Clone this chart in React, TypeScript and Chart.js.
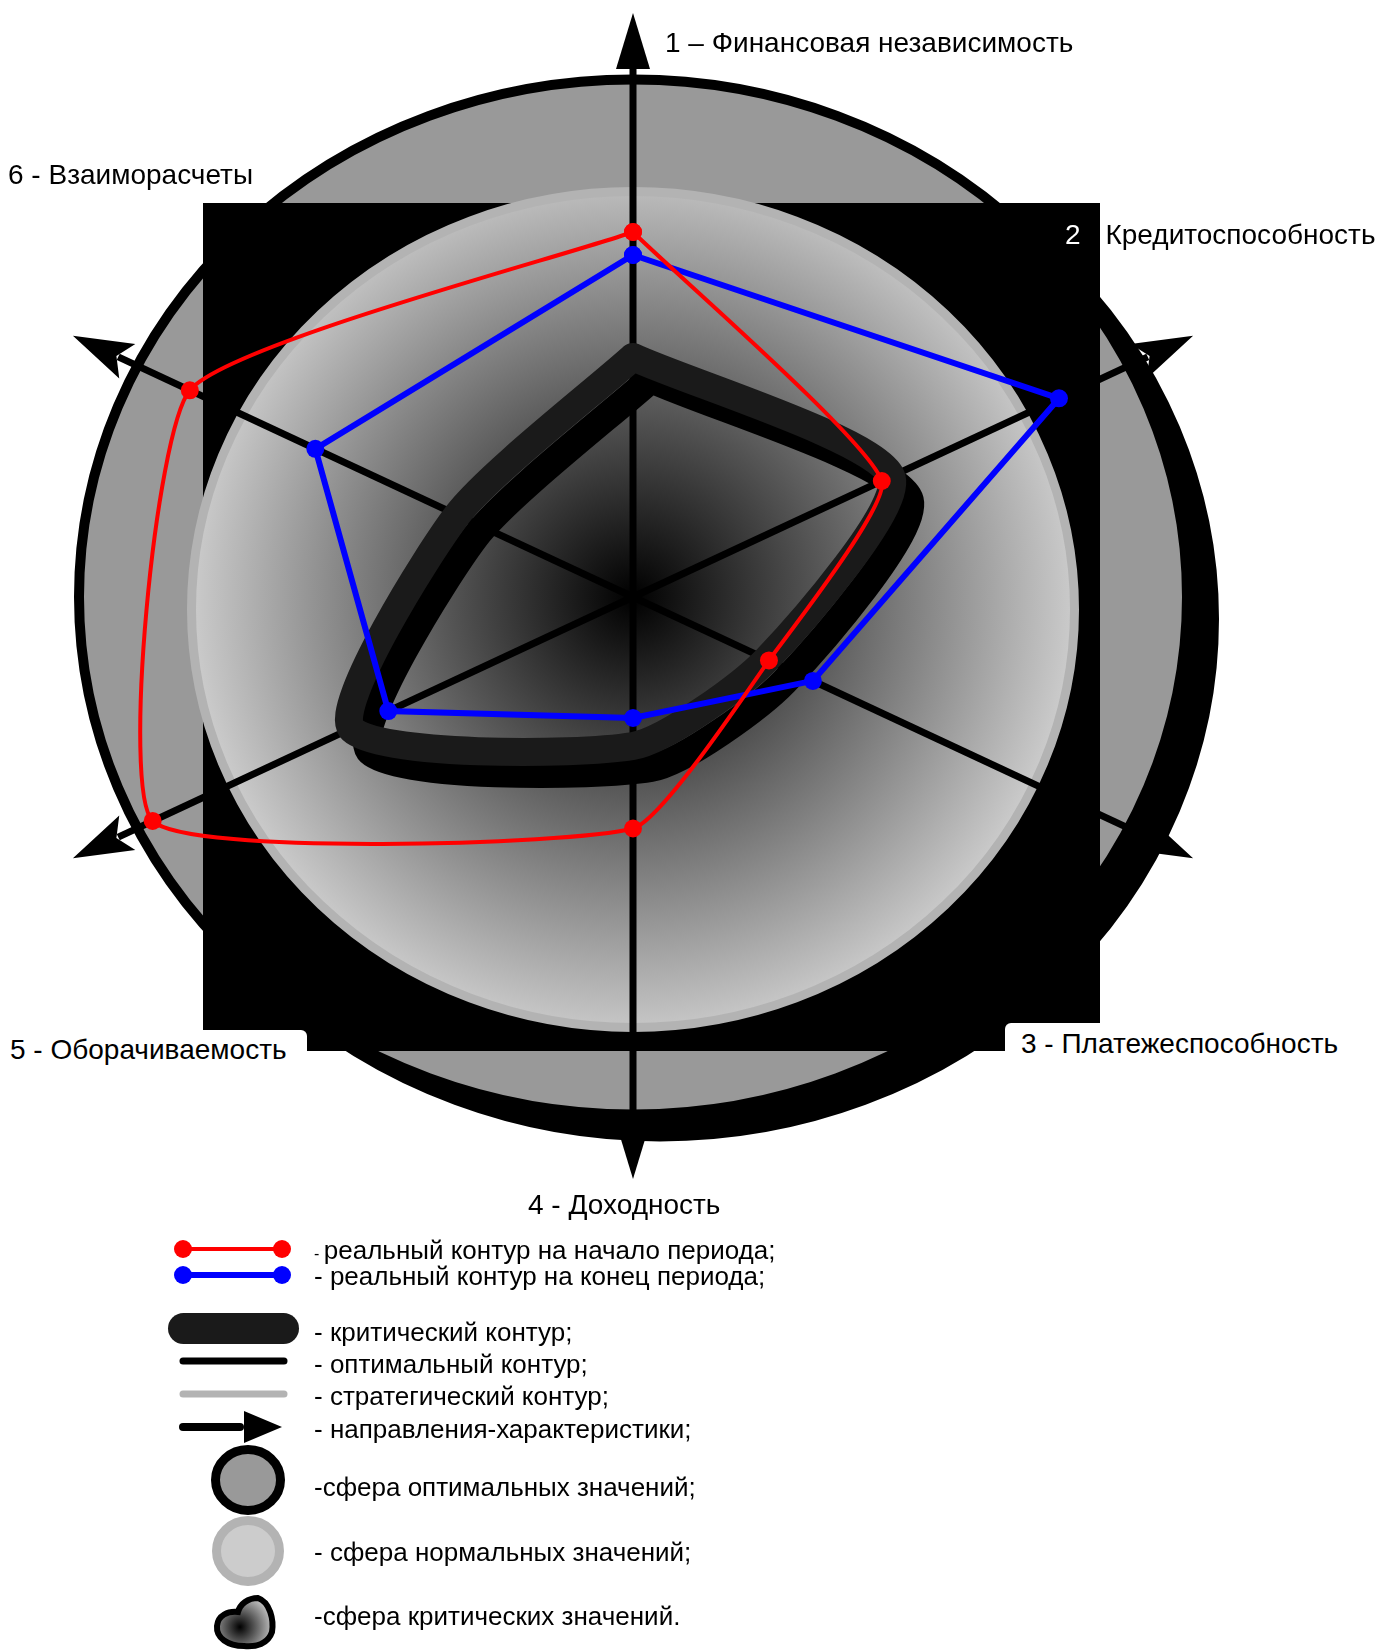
import React, { useEffect, useRef } from 'react';
import { Chart, registerables } from 'chart.js';

Chart.register(...registerables);

const W = 1377;
const H = 1651;

// ---- directions (characteristics) of the diagram
const axisLabels = [
  '1 – Финансовая независимость',
  '2 - Кредитоспособность',
  '3 - Платежеспособность',
  '4 - Доходность',
  '5 - Оборачиваемость',
  '6 - Взаиморасчеты',
];
const axisAngles = [90, 25, -25, -90, -155, 155];
const axisLengths = [11.68, 12.36, 12.36, 11.64, 12.36, 12.36];

// ---- contour values along each direction (diagram units)
const startOfPeriod = [7.3, 5.49, 3.0, 4.63, 10.6, 9.78];
const endOfPeriod = [6.84, 9.4, 3.97, 2.42, 5.4, 7.01];
const criticalContour = [4.8, 5.7, 2.95, 2.98, 6.22, 3.88];

// ---- spheres (rx, ry, centre y)
const optimalSphere = [11.08, 10.35, 0];
const normalSphere = [8.83, 8.36, -0.25];
const frameBox = [-8.6, 7.88, 9.34, -9.08];

// ---- axis bounds
const X_MIN = -12.66;
const X_MAX = 14.88;
const Y_MIN = -21.08;
const Y_MAX = 11.94;

const legendLabels = [
  'реальный контур на начало периода;',
  '- реальный контур на конец периода;',
  '- критический контур;',
  '- оптимальный контур;',
  '- стратегический контур;',
  '- направления-характеристики;',
  '-сфера оптимальных значений;',
  '- сфера нормальных значений;',
  '-сфера критических значений.',
];

const rad = (d: number) => (d * Math.PI) / 180;
const toPoints = (vals: number[]) => {
  const pts = vals.map((v, i) => ({ x: v * Math.cos(rad(axisAngles[i])), y: v * Math.sin(rad(axisAngles[i])) }));
  pts.push({ ...pts[0] });
  return pts;
};

const FONT = "'Liberation Sans', Arial, sans-serif";

const backdrop = {
  id: 'backdrop',
  beforeDatasetsDraw(chart: any) {
    const ctx: CanvasRenderingContext2D = chart.ctx;
    const xs = chart.scales.x;
    const ys = chart.scales.y;
    const px = (v: number) => xs.getPixelForValue(v);
    const py = (v: number) => ys.getPixelForValue(v);
    const u = px(1) - px(0);
    const cx = px(0);
    const cy = py(0);
    ctx.save();
    // shadow of optimal sphere
    ctx.beginPath();
    ctx.ellipse(cx + 27, py(optimalSphere[2]) + 22, optimalSphere[0] * u, optimalSphere[1] * u, 0, 0, Math.PI * 2);
    ctx.fillStyle = '#000';
    ctx.fill();
    ctx.lineWidth = 10;
    ctx.strokeStyle = '#000';
    ctx.stroke();
    // optimal sphere
    ctx.beginPath();
    ctx.ellipse(cx, py(optimalSphere[2]), optimalSphere[0] * u, optimalSphere[1] * u, 0, 0, Math.PI * 2);
    ctx.fillStyle = '#999999';
    ctx.fill();
    ctx.stroke();
    // black frame
    ctx.fillStyle = '#000';
    ctx.fillRect(px(frameBox[0]), py(frameBox[1]), px(frameBox[2]) - px(frameBox[0]), py(frameBox[3]) - py(frameBox[1]));
    // normal sphere with critical gradient
    const g = ctx.createRadialGradient(cx, cy, 0, cx, cy, normalSphere[0] * u + 4);
    g.addColorStop(0, '#000000');
    g.addColorStop(1, '#cdcdcd');
    ctx.beginPath();
    ctx.ellipse(cx, py(normalSphere[2]), normalSphere[0] * u, normalSphere[1] * u, 0, 0, Math.PI * 2);
    ctx.fillStyle = g;
    ctx.fill();
    ctx.lineWidth = 9;
    ctx.strokeStyle = '#b3b3b3';
    ctx.stroke();
    // axes with arrows
    ctx.strokeStyle = '#000';
    ctx.fillStyle = '#000';
    ctx.lineWidth = 7;
    axisAngles.forEach((a, i) => {
      const L = axisLengths[i];
      const tx = px(L * Math.cos(rad(a)));
      const ty = py(L * Math.sin(rad(a)));
      const len = Math.hypot(tx - cx, ty - cy);
      const dx = (tx - cx) / len;
      const dy = (ty - cy) / len;
      const nx = -dy;
      const ny = dx;
      const diag = a !== 90 && a !== -90;
      const hl = diag ? 60 : 56;
      const hw = diag ? 19 : 17;
      const bx = tx - dx * hl;
      const by = ty - dy * hl;
      ctx.beginPath();
      ctx.moveTo(cx, cy);
      ctx.lineTo(bx + dx * 10, by + dy * 10);
      ctx.stroke();
      ctx.beginPath();
      ctx.moveTo(tx, ty);
      ctx.lineTo(bx + nx * hw, by + ny * hw);
      if (diag) ctx.lineTo(bx + dx * 12, by + dy * 12);
      ctx.lineTo(bx - nx * hw, by - ny * hw);
      ctx.closePath();
      ctx.fill();
    });
    ctx.restore();
  },
  beforeDatasetDraw(chart: any, args: any) {
    if (args.index === 2) {
      const c = chart.ctx;
      c.shadowColor = '#000';
      c.shadowOffsetX = 18;
      c.shadowOffsetY = 22;
      c.shadowBlur = 0;
    }
  },
  afterDatasetDraw(chart: any, args: any) {
    if (args.index === 2) {
      const c = chart.ctx;
      c.shadowColor = 'rgba(0,0,0,0)';
      c.shadowOffsetX = 0;
      c.shadowOffsetY = 0;
    }
  },
  afterDraw(chart: any) {
    const ctx: CanvasRenderingContext2D = chart.ctx;
    ctx.save();
    const line = (x1: number, y: number, x2: number, color: string, w: number) => {
      ctx.beginPath();
      ctx.moveTo(x1, y);
      ctx.lineTo(x2, y);
      ctx.strokeStyle = color;
      ctx.lineWidth = w;
      ctx.lineCap = 'round';
      ctx.stroke();
    };
    const dot = (x: number, y: number, r: number, color: string) => {
      ctx.beginPath();
      ctx.arc(x, y, r, 0, Math.PI * 2);
      ctx.fillStyle = color;
      ctx.fill();
    };
    line(183, 1249, 282, '#ff0000', 4);
    dot(183, 1249, 9, '#ff0000');
    dot(282, 1249, 9, '#ff0000');
    line(183, 1275, 282, '#0000ff', 6);
    dot(183, 1275, 9, '#0000ff');
    dot(282, 1275, 9, '#0000ff');
    // critical
    ctx.beginPath();
    (ctx as any).roundRect(168, 1313, 131, 31, 15.5);
    ctx.fillStyle = '#1a1a1a';
    ctx.fill();
    line(183, 1361, 284, '#000', 7);
    line(183, 1394, 284, '#b3b3b3', 7);
    // arrow
    line(183, 1427, 240, '#000', 8);
    ctx.beginPath();
    ctx.moveTo(244, 1411);
    ctx.lineTo(282, 1427);
    ctx.lineTo(244, 1443);
    ctx.closePath();
    ctx.fillStyle = '#000';
    ctx.fill();
    // optimal sphere symbol
    ctx.beginPath();
    ctx.ellipse(248, 1480, 32.5, 30.5, 0, 0, Math.PI * 2);
    ctx.fillStyle = '#999999';
    ctx.fill();
    ctx.lineWidth = 9;
    ctx.strokeStyle = '#000';
    ctx.stroke();
    // normal sphere symbol
    ctx.beginPath();
    ctx.ellipse(248, 1551, 31.5, 30.5, 0, 0, Math.PI * 2);
    ctx.fillStyle = '#cccccc';
    ctx.fill();
    ctx.strokeStyle = '#b3b3b3';
    ctx.stroke();
    // critical sphere blob
    const g = ctx.createRadialGradient(240, 1627, 0, 240, 1627, 32);
    g.addColorStop(0, '#000');
    g.addColorStop(1, '#bdbdbd');
    ctx.beginPath();
    ctx.moveTo(238, 1612);
    ctx.bezierCurveTo(240, 1604, 248, 1598, 258, 1598);
    ctx.bezierCurveTo(270, 1602, 274, 1620, 272, 1632);
    ctx.bezierCurveTo(268, 1644, 256, 1647, 244, 1646);
    ctx.bezierCurveTo(228, 1646, 216, 1638, 217, 1626);
    ctx.bezierCurveTo(218, 1615, 228, 1611, 238, 1612);
    ctx.closePath();
    ctx.fillStyle = g;
    ctx.fill();
    ctx.lineWidth = 6;
    ctx.strokeStyle = '#000';
    ctx.stroke();
    ctx.restore();
  },
};

const labelPos = [
  { left: 665, cy: 43 },
  { left: 1065, cy: 235 },
  { left: 1021, cy: 1044 },
  { left: 528, cy: 1205 },
  { left: 10, cy: 1050 },
  { left: 8, cy: 175 },
];
const legendY = [1250, 1276, 1332, 1364, 1396, 1429, 1487, 1552, 1616];

export default function App() {
  const ref = useRef<HTMLCanvasElement>(null);
  useEffect(() => {
    const chart = new Chart(ref.current as HTMLCanvasElement, {
      type: 'scatter',
      data: {
        datasets: [
          {
            label: 'реальный контур на начало периода',
            data: toPoints(startOfPeriod),
            showLine: true,
            borderColor: '#ff0000',
            borderWidth: 4,
            tension: 0.15,
            pointRadius: 9,
            pointBackgroundColor: '#ff0000',
            pointBorderWidth: 0,
          },
          {
            label: 'реальный контур на конец периода',
            data: toPoints(endOfPeriod),
            showLine: true,
            borderColor: '#0000ff',
            borderWidth: 6,
            tension: 0,
            pointRadius: 9,
            pointBackgroundColor: '#0000ff',
            pointBorderWidth: 0,
          },
          {
            label: 'критический контур',
            data: toPoints(criticalContour),
            showLine: true,
            borderColor: '#1a1a1a',
            borderWidth: 28,
            tension: 0.22,
            pointRadius: 0,
            borderJoinStyle: 'round',
            borderCapStyle: 'round',
          },
        ] as any,
      },
      options: {
        animation: false,
        responsive: false,
        maintainAspectRatio: false,
        layout: { padding: 0, autoPadding: false },
        scales: {
          x: { type: 'linear', min: X_MIN, max: X_MAX, display: false },
          y: { type: 'linear', min: Y_MIN, max: Y_MAX, display: false },
        },
        plugins: { legend: { display: false }, tooltip: { enabled: false } },
      } as any,
      plugins: [backdrop],
    });
    return () => chart.destroy();
  }, []);

  const textStyle = (left: number, cy: number, size: number): React.CSSProperties => ({
    position: 'absolute',
    left,
    top: cy,
    transform: 'translateY(-50%)',
    whiteSpace: 'nowrap',
    fontFamily: FONT,
    fontSize: size,
    lineHeight: 1,
    color: '#000',
  });

  return (
    <div style={{ position: 'absolute', left: 0, top: 0, width: W, height: H, overflow: 'hidden', background: '#fff' }}>
      <canvas ref={ref} width={W} height={H} style={{ position: 'absolute', left: 0, top: 0, width: W, height: H }} />
      <div style={{ position: 'absolute', left: 0, top: 1030, width: 307, height: 50, background: '#fff', borderTopRightRadius: 6 }} />
      <div style={{ position: 'absolute', left: 1005, top: 1023, width: 372, height: 50, background: '#fff', borderTopLeftRadius: 6 }} />
      {axisLabels.map((t, i) =>
        i === 1 ? (
          <div key={i} style={textStyle(labelPos[i].left, labelPos[i].cy, 28)}>
            <span style={{ color: '#fff' }}>{t.slice(0, 1)}</span>
            {t.slice(1)}
          </div>
        ) : (
          <div key={i} style={textStyle(labelPos[i].left, labelPos[i].cy, 28)}>
            {t}
          </div>
        )
      )}
      {legendLabels.map((t, i) =>
        i === 0 ? (
          <div key={'l' + i} style={textStyle(314, legendY[i], 26)}>
            <span style={{ fontSize: 16 }}>- </span>
            {t}
          </div>
        ) : (
          <div key={'l' + i} style={textStyle(314, legendY[i], 26)}>
            {t}
          </div>
        )
      )}
    </div>
  );
}
